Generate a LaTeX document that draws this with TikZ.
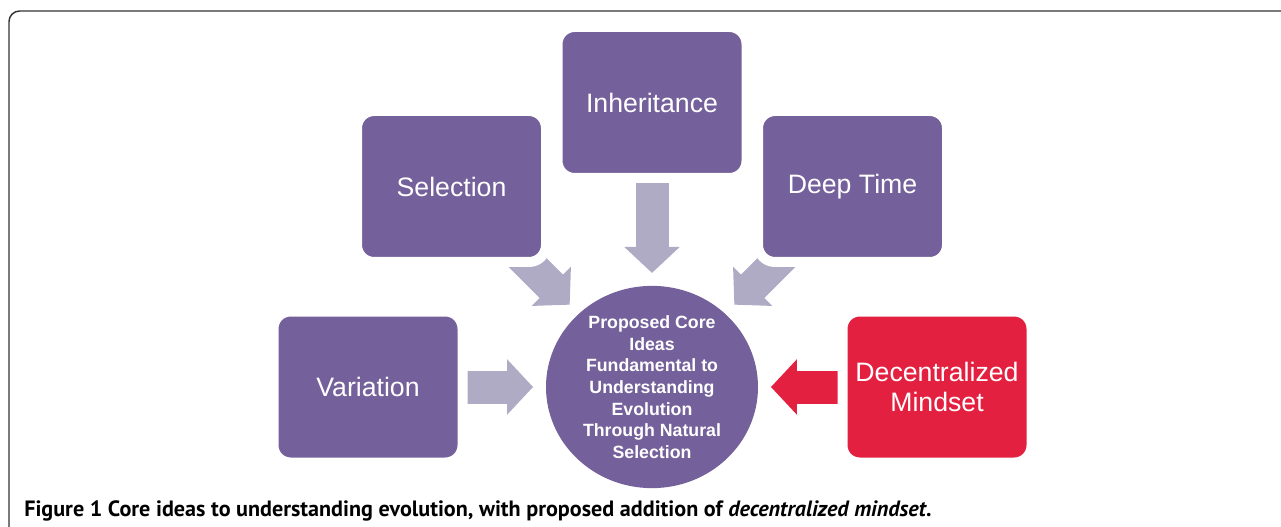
\documentclass[tikz,border=0pt]{standalone}
\usepackage{fontspec}
\setmainfont{Liberation Sans}
\newfontfamily\capfont{PT Sans}
\usetikzlibrary{arrows.meta,backgrounds,shapes.geometric}
\definecolor{idea}{RGB}{116,96,154}
\definecolor{flow}{RGB}{176,171,196}
\definecolor{newidea}{RGB}{227,32,63}
\definecolor{framegray}{RGB}{51,51,51}

\begin{document}
\begin{tikzpicture}[x=0.75pt,y=-0.75pt,
  ideabox/.style={fill=#1,draw=white,line width=7.5pt,rounded corners=12.75pt,
    minimum width=141.75pt,minimum height=113.25pt,inner sep=0pt,text=white,
    align=center,font=\fontsize{20}{22.5}\selectfont},
  flowarrow/.style={draw=#1,line width=24.75pt,
    -{Triangle[width=40.5pt,length=19.5pt]},shorten >=9.5pt}]
\useasboundingbox (0,0) rectangle (1281,527);
\draw[framegray,line width=1.1pt,rounded corners=8pt] (9,527) -- (9,11) -- (1281,11);

% the five ideas
\node[ideabox=idea] (inh) at (652,102.5) {Inheritance};
\node[ideabox=idea] (sel) at (451.5,186.5) {Selection};
\node[ideabox=idea] (deep) at (852.5,186.5) {Deep Time};
\node[ideabox=idea] (var) at (368,387) {Variation};
\node[ideabox=newidea] (dec) at (937,387) {Decentralized\\Mindset};

\node[ellipse,fill=idea,minimum width=159pt,minimum height=141pt,inner sep=0pt,
  text=white,align=center,font=\bfseries\fontsize{13.3}{16.25}\selectfont]
  (core) at (652,387) {Proposed Core\\Ideas\\Fundamental to\\Understanding\\Evolution\\Through Natural\\Selection};

\begin{scope}[on background layer]
\draw[flowarrow=flow] (inh.center) -- (core.90);
\draw[flowarrow=flow] (sel.center) -- (core.135);
\draw[flowarrow=flow] (deep.center) -- (core.45);
\draw[flowarrow=flow] (var.center) -- (core.180);
\draw[flowarrow=newidea] (dec.center) -- (core.0);
\end{scope}

\node[anchor=base west,inner sep=0pt,font=\capfont\bfseries\fontsize{16.6}{20}\selectfont]
  (cap) at (24,516) {Figure 1 Core ideas to understanding evolution, with proposed addition of \textit{decentralized mindset}.};
\end{tikzpicture}
\end{document}
